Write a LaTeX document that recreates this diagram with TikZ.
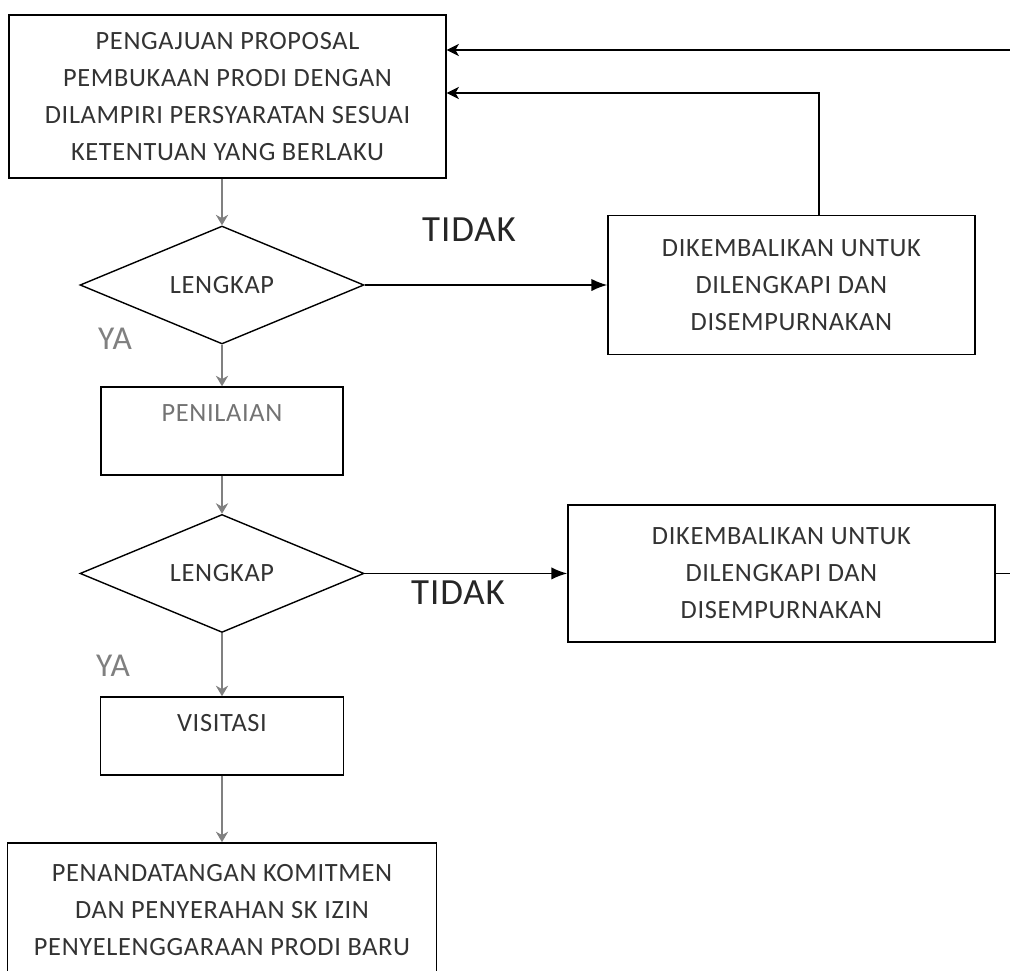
\documentclass[tikz,border=0pt]{standalone}
\usepackage{fontspec}
\setmainfont[LetterSpace=2.5]{Carlito}
\usetikzlibrary{shapes,arrows.meta,positioning}

\begin{document}
\begin{tikzpicture}[x=0.02cm,y=-0.02cm,node distance=2.5cm,
	box/.style={rectangle,draw=black,thick,align=center,text=black!80,font=\fontsize{15}{21}\selectfont},
	cond/.style={diamond,draw=black,thick,aspect=2.4,minimum width=5.68cm,minimum height=2.36cm,inner sep=0pt,text=black!80,font=\fontsize{15}{21}\selectfont},
	down/.style={draw=black!50,thick,-{Stealth[length=6pt,width=7pt]}},
	side/.style={draw=black,thick,-{Latex[length=9pt,width=7pt]}},
	back/.style={draw=black,thick,-{Stealth[length=7pt,width=7pt,inset=2pt]}},
	answer/.style={text=black!85,font=\fontsize{21}{21}\selectfont}]
	\useasboundingbox (0,0) rectangle (1010,970);
	\clip (0,0) rectangle (1010,970);

	\node (P) [box,minimum width=8.74cm,minimum height=3.26cm] at (227.5,96.5) {PENGAJUAN PROPOSAL\\PEMBUKAAN PRODI DENGAN\\DILAMPIRI PERSYARATAN SESUAI\\KETENTUAN YANG BERLAKU};
	\node (L1) [cond] at (222,285) {LENGKAP};
	\node (K1) [box,node distance=11.39cm,right of=L1,minimum width=7.34cm,minimum height=2.78cm] {DIKEMBALIKAN UNTUK\\DILENGKAPI DAN\\DISEMPURNAKAN};
	\node (N) [box,node distance=2.92cm,below of=L1,minimum width=4.84cm,minimum height=1.76cm,text height=0.34cm,text depth=0.72cm,text=black!55] {PENILAIAN};
	\node (L2) [cond,node distance=2.85cm,below of=N] {LENGKAP};
	\node (K2) [box,node distance=11.19cm,right of=L2,minimum width=8.54cm,minimum height=2.74cm] {DIKEMBALIKAN UNTUK\\DILENGKAPI DAN\\DISEMPURNAKAN};
	\node (V) [box,node distance=3.25cm,below of=L2,minimum width=4.86cm,minimum height=1.56cm,text height=0.34cm,text depth=0.52cm] {VISITASI};
	\node (S) [box,node distance=3.48cm,below of=V,minimum width=8.58cm,minimum height=2.68cm] {PENANDATANGAN KOMITMEN\\DAN PENYERAHAN SK IZIN\\PENYELENGGARAAN PRODI BARU};

	\node (T1) [answer] at (469,230) {TIDAK};
	\node (T2) [answer] at (458,593) {TIDAK};
	\node (Y1) [answer,text=black!50,font=\fontsize{19}{19}\selectfont] at (115,339) {YA};
	\node (Y2) [answer,text=black!50,font=\fontsize{19}{19}\selectfont] at (113,666) {YA};

	\coordinate (R1) at (819,93);
	\coordinate (R2) at (1040,50);

	\draw[down] (L1.north |- P.south) -- (L1.north);
	\path[side] (L1) edge (K1);
	\draw[down] (L1) -- (N);
	\draw[down] (N) -- (L2);
	\path[side] (L2) edge (K2);
	\draw[down] (L2) -- (V);
	\draw[down] (V) -- (S);

	\draw[back] (K1.north -| R1) -- (R1) -- (R1 -| P.east);
	\draw[back] (K2.east) -| (R2) -- (R2 -| P.east);
\end{tikzpicture}
\end{document}
